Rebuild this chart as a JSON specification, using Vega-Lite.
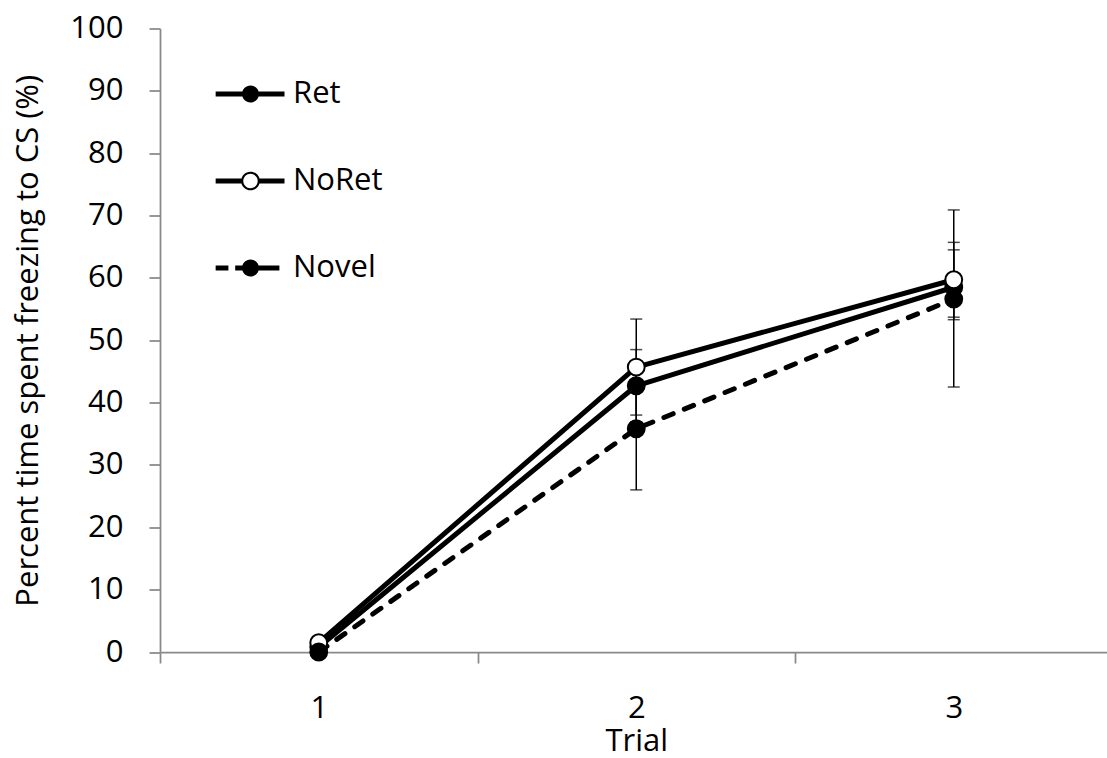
{
  "$schema": "https://vega.github.io/schema/vega-lite/v6.json",
  "width": 952.5,
  "height": 623.5,
  "autosize": {"type": "none"},
  "padding": {"left": 160, "top": 28.5, "right": 0, "bottom": 106},
  "background": "white",
  "config": {
    "view": {"stroke": null},
    "font": "Open Sans",
    "axis": {
      "domainColor": "#898989", "tickColor": "#898989", "domainWidth": 1.75, "tickWidth": 1.75,
      "grid": false, "labelColor": "black", "titleColor": "black",
      "labelFont": "Open Sans", "titleFont": "Open Sans", "labelFontSize": 31, "titleFontSize": 31,
      "titleFontWeight": "normal"
    },
    "legend": {
      "orient": "none", "legendX": 75, "legendY": 50, "labelFont": "Open Sans", "labelFontSize": 31, "labelColor": "black",
      "symbolSize": 289, "symbolStrokeWidth": 0, "symbolFillColor": "black", "symbolOpacity": 1, "labelOffset": 27, "rowPadding": 55
    }
  },
  "data": {
    "values": [
      {"Trial": "1", "Series": "Ret", "Mean": 0.8, "Lo": 0.3, "Hi": 1.3},
      {"Trial": "1", "Series": "NoRet", "Mean": 1.5, "Lo": 0.6, "Hi": 2.4},
      {"Trial": "1", "Series": "Novel", "Mean": 0.0, "Lo": 0.0, "Hi": 0.0},
      {"Trial": "2", "Series": "Ret", "Mean": 42.7, "Lo": 36.9, "Hi": 48.5},
      {"Trial": "2", "Series": "NoRet", "Mean": 45.7, "Lo": 38.0, "Hi": 53.4},
      {"Trial": "2", "Series": "Novel", "Mean": 35.8, "Lo": 26.0, "Hi": 45.6},
      {"Trial": "3", "Series": "Ret", "Mean": 58.5, "Lo": 53.3, "Hi": 64.5},
      {"Trial": "3", "Series": "NoRet", "Mean": 59.7, "Lo": 53.7, "Hi": 65.7},
      {"Trial": "3", "Series": "Novel", "Mean": 56.6, "Lo": 42.5, "Hi": 70.9}
    ]
  },
  "encoding": {
    "x": {
      "field": "Trial", "type": "ordinal",
      "scale": {"type": "band", "paddingInner": 0, "paddingOuter": 0},
      "axis": {"title": "Trial", "labelAngle": 0, "tickBand": "extent", "tickSize": 11, "labelPadding": 30, "titlePadding": 3}
    },
    "y": {"field": "Mean", "type": "quantitative", "scale": {"domain": [0, 100], "nice": false},
      "axis": {"title": "Percent time spent freezing to CS (%)", "tickCount": 10, "tickSize": 11, "labelPadding": 26, "titlePadding": 25}}
  },
  "layer": [
    {
      "mark": {"type": "rule", "color": "black", "strokeWidth": 1.5},
      "encoding": {
        "y": {"field": "Lo", "type": "quantitative", "scale": {"domain": [0, 100], "nice": false},
          "axis": {"title": "Percent time spent freezing to CS (%)", "tickCount": 10, "tickSize": 11, "labelPadding": 26, "titlePadding": 25}},
        "y2": {"field": "Hi"}
      }
    },
    {
      "mark": {"type": "tick", "color": "black", "size": 12, "thickness": 1.5},
      "encoding": {"y": {"field": "Lo", "type": "quantitative", "scale": {"domain": [0, 100], "nice": false},
        "axis": {"title": "Percent time spent freezing to CS (%)", "tickCount": 10, "tickSize": 11, "labelPadding": 26, "titlePadding": 25}}}
    },
    {
      "mark": {"type": "tick", "color": "black", "size": 12, "thickness": 1.5},
      "encoding": {"y": {"field": "Hi", "type": "quantitative", "scale": {"domain": [0, 100], "nice": false},
        "axis": {"title": "Percent time spent freezing to CS (%)", "tickCount": 10, "tickSize": 11, "labelPadding": 26, "titlePadding": 25}}}
    },
    {
      "transform": [{"filter": "datum.Series === 'Ret'"}],
      "mark": {"type": "line", "color": "black", "strokeWidth": 5, "strokeCap": "round", "strokeJoin": "round"}
    },
    {
      "transform": [{"filter": "datum.Series === 'NoRet'"}],
      "mark": {"type": "line", "color": "black", "strokeWidth": 5, "strokeCap": "round", "strokeJoin": "round"}
    },
    {
      "transform": [{"filter": "datum.Series === 'Novel'"}],
      "mark": {"type": "line", "color": "black", "strokeWidth": 5, "strokeCap": "round", "strokeJoin": "round", "strokeDash": [10, 12]}
    },
    {
      "transform": [{"filter": "datum.Series === 'Ret'"}],
      "mark": {"type": "point", "shape": "circle", "filled": true, "size": 284, "fill": "black", "stroke": "black", "strokeWidth": 2, "opacity": 1}
    },
    {
      "transform": [{"filter": "datum.Series === 'NoRet'"}],
      "mark": {"type": "point", "shape": "circle", "filled": true, "size": 284, "fill": "white", "stroke": "black", "strokeWidth": 2, "opacity": 1}
    },
    {
      "transform": [{"filter": "datum.Series === 'Novel'"}],
      "mark": {"type": "point", "shape": "circle", "filled": true, "size": 284, "fill": "black", "stroke": "black", "strokeWidth": 2, "opacity": 1}
    },
    {
      "mark": {"type": "point", "filled": true, "color": "black", "opacity": 0},
      "encoding": {
        "shape": {"field": "Series", "type": "nominal",
          "scale": {"domain": ["Ret", "NoRet", "Novel"], "range": [
            "M-4.1,-0.3H-0.9V0.3H-4.1ZM0.9,-0.3H4V0.3H0.9ZM-1,0A1,1 0 1,1 1,0A1,1 0 1,1 -1,0Z",
            "M-4.1,-0.3H-1V0.3H-4.1ZM1,-0.3H4V0.3H1ZM-1.1,0A1.1,1.1 0 1,1 1.1,0A1.1,1.1 0 1,1 -1.1,0ZM-0.85,0A0.85,0.85 0 1,0 0.85,0A0.85,0.85 0 1,0 -0.85,0Z",
            "M-4.1,-0.3H-2.6V0.3H-4.1ZM-1.8,-0.3H-0.9V0.3H-1.8ZM0.9,-0.3H3.4V0.3H0.9ZM-1,0A1,1 0 1,1 1,0A1,1 0 1,1 -1,0Z"
          ]},
          "legend": {"title": null}}
      }
    }
  ]
}
